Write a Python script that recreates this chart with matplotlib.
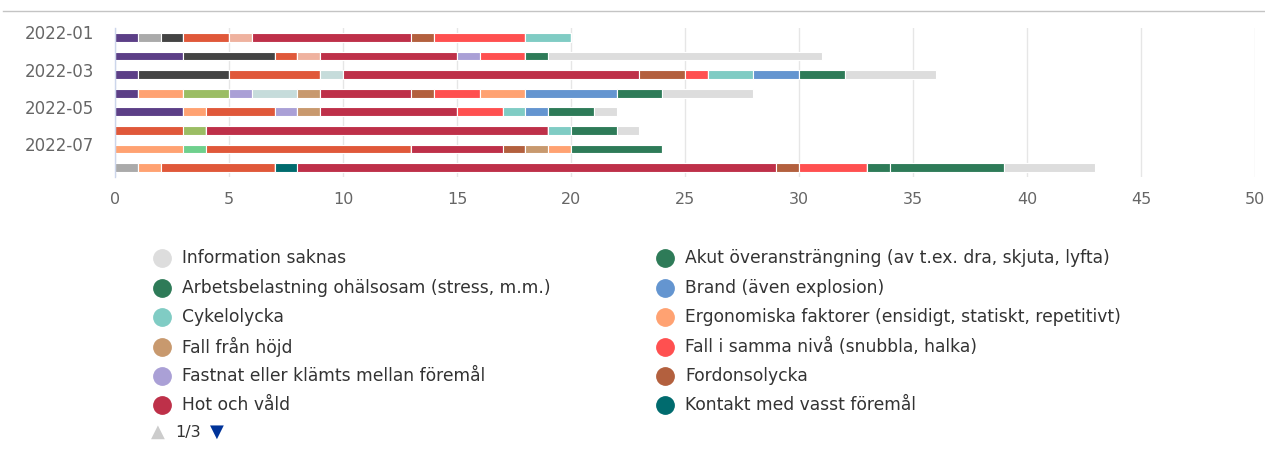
import matplotlib
matplotlib.use('Agg')
import matplotlib.pyplot as plt
import matplotlib.transforms as mtransforms
from matplotlib.lines import Line2D
import numpy as np

# Månader (kategorier)
months = ["2022-01", "2022-02", "2022-03", "2022-04", "2022-05", "2022-06", "2022-07", "2022-08"]

# Serier i legendordning (sida 1 av 3 syns i legenden)
information_saknas = [0, 12, 4, 4, 1, 1, 0, 4]
akut_overanstrangning = [0, 1, 2, 2, 2, 2, 4, 5]
arbetsbelastning = [0, 0, 0, 0, 0, 0, 0, 1]
brand = [0, 0, 2, 4, 1, 0, 0, 0]
cykelolycka = [2, 0, 2, 0, 1, 1, 0, 0]
ergonomiska = [0, 0, 0, 2, 0, 0, 1, 0]
fall_hojd = [0, 0, 0, 0, 0, 0, 1, 0]
fall_samma_niva = [4, 2, 1, 2, 2, 0, 0, 3]
fastnat = [0, 1, 0, 0, 0, 0, 0, 0]
fordonsolycka = [1, 0, 2, 1, 0, 0, 1, 1]
hot_och_vald = [7, 6, 13, 4, 6, 15, 4, 21]
kontakt_vasst = [0, 0, 0, 0, 0, 0, 0, 1]
# sida 2-3 (syns ej i legenden)
maskin = [0, 0, 0, 1, 1, 0, 0, 0]
olycka_djur = [1, 1, 0, 0, 0, 0, 0, 0]
psykisk = [0, 0, 1, 2, 0, 0, 0, 0]
ras = [0, 0, 0, 1, 1, 0, 0, 0]
skadlig_exp = [0, 0, 0, 2, 0, 1, 0, 0]
slag_stot = [2, 1, 4, 0, 3, 3, 9, 5]
smitta = [0, 0, 0, 0, 0, 0, 1, 0]
trafikolycka = [0, 0, 0, 2, 1, 0, 3, 1]
trakasserier = [1, 4, 4, 0, 0, 0, 0, 0]
utslapp = [1, 0, 0, 0, 0, 0, 0, 1]
ovrigt = [1, 3, 1, 1, 3, 0, 0, 0]

series = [
    ("Information saknas", "#dddddd", information_saknas),
    ("Akut överansträngning (av t.ex. dra, skjuta, lyfta)", "#2e7b58", akut_overanstrangning),
    ("Arbetsbelastning ohälsosam (stress, m.m.)", "#2e7b58", arbetsbelastning),
    ("Brand (även explosion)", "#6495d0", brand),
    ("Cykelolycka", "#80ccc4", cykelolycka),
    ("Ergonomiska faktorer (ensidigt, statiskt, repetitivt)", "#ffa272", ergonomiska),
    ("Fall från höjd", "#c8996e", fall_hojd),
    ("Fall i samma nivå (snubbla, halka)", "#ff5050", fall_samma_niva),
    ("Fastnat eller klämts mellan föremål", "#aaa0d6", fastnat),
    ("Fordonsolycka", "#b3603e", fordonsolycka),
    ("Hot och våld", "#be3049", hot_och_vald),
    ("Kontakt med vasst föremål", "#006b6e", kontakt_vasst),
    ("Maskin eller verktyg", "#c8996e", maskin),
    ("Olycka med djur", "#efb29f", olycka_djur),
    ("Psykisk påfrestning", "#c6dcdb", psykisk),
    ("Ras eller nedfallande föremål", "#aaa0d6", ras),
    ("Skadlig exponering", "#9bbd64", skadlig_exp),
    ("Slag eller stöt", "#e0583a", slag_stot),
    ("Smitta", "#6fd08d", smitta),
    ("Trafikolycka", "#ffa272", trafikolycka),
    ("Trakasserier", "#444444", trakasserier),
    ("Utsläpp", "#aaaaaa", utslapp),
    ("Övrigt", "#5c3f87", ovrigt),
]

fig = plt.figure(figsize=(12.65, 4.72), dpi=100)
ax = fig.add_axes([115 / 1265, 1 - 177 / 472, 1140 / 1265, 149 / 472])

y = np.arange(len(months))
left = np.zeros(len(months))
# staplas i omvänd legendordning
for name, color, vals in reversed(series):
    vals = np.array(vals, dtype=float)
    ax.barh(y, vals, left=left, height=0.47, color=color,
            edgecolor='white', linewidth=0.8)
    left += vals

ax.set_xlim(0, 50)
ax.set_ylim(len(months) - 0.5, -0.5)
ax.set_xticks(range(0, 51, 5))
ax.set_yticks(y)
ax.set_yticklabels([m if i % 2 == 0 else "" for i, m in enumerate(months)])
ax.tick_params(axis='x', length=0, labelsize=11.5, labelcolor='#666666', pad=11)
ax.tick_params(axis='y', length=0, labelsize=12, labelcolor='#666666', pad=15)
offset = mtransforms.ScaledTranslation(0, 0.05, fig.dpi_scale_trans)
for lbl in ax.get_yticklabels():
    lbl.set_transform(lbl.get_transform() + offset)

ax.grid(axis='x', color='#e6e6e6', linewidth=1)
ax.set_axisbelow(True)
for s in ['top', 'right', 'bottom']:
    ax.spines[s].set_visible(False)
ax.spines['left'].set_color('#ccd6eb')
ax.spines['left'].set_linewidth(1)

# linje överst
fig.add_artist(Line2D([3 / 1265, 1], [1 - 11 / 472] * 2, color='#c4c4c4',
                      linewidth=1, transform=fig.transFigure))

# legend (sida 1/3), radvis i två kolumner
page1 = series[:12]
row_y0, row_step = 258.3, 29.4
col_marker = [161.7, 665]
col_text = [181.7, 685]
for i, (name, color, vals) in enumerate(page1):
    r, c = divmod(i, 2)
    yy = 1 - (row_y0 + r * row_step) / 472
    fig.add_artist(Line2D([col_marker[c] / 1265], [yy], marker='o', markersize=12.5,
                          color=color, linestyle='none', transform=fig.transFigure))
    fig.text(col_text[c] / 1265, yy, name, fontsize=12.3, color='#333333',
             va='center', ha='left')

py = 1 - 432 / 472
fig.text(158.3 / 1265, py, "▲", fontsize=13, color='#cccccc', ha='center', va='center')
fig.text(188 / 1265, py, "1/3", fontsize=11.5, color='#333333', ha='center', va='center')
fig.text(217.3 / 1265, py, "▼", fontsize=13, color='#003399', ha='center', va='center')

fig.savefig('out.png', dpi=100, facecolor='white')
